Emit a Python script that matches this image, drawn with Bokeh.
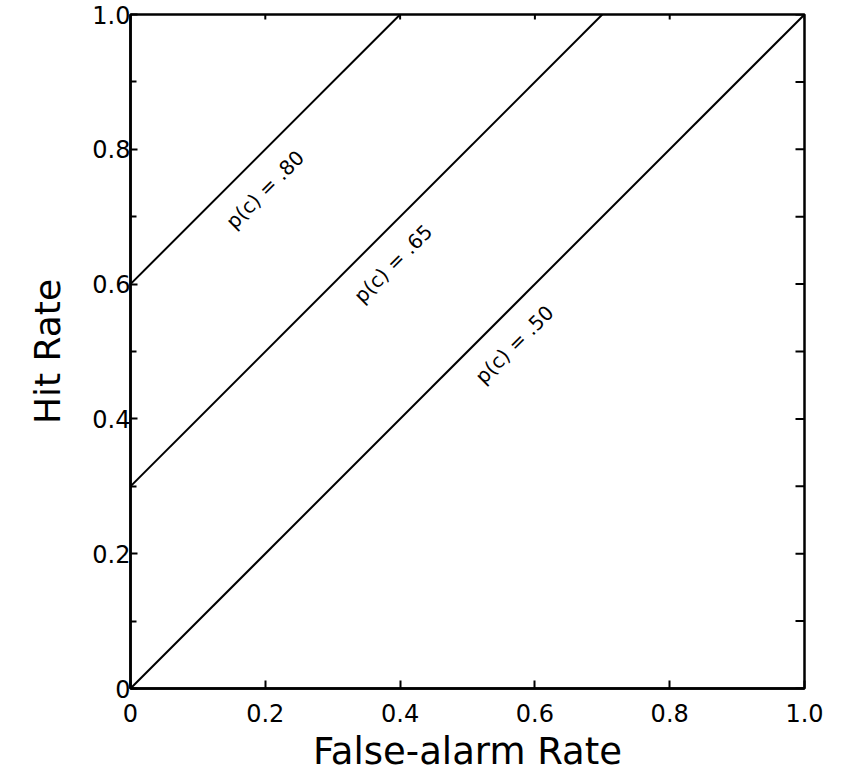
import math
from bokeh.plotting import figure
from bokeh.models import Range1d, LinearAxis, FixedTicker
from bokeh.core.properties import value
from bokeh.embed import file_html
from bokeh.resources import INLINE

# ---- data ----
intercepts = [0.6, 0.3, 0.0]                 # Hit = FA + intercept
pc_labels = ["p(c) = .80", "p(c) = .65", "p(c) = .50"]
label_fa = [0.17, 0.36, 0.54]                # false-alarm position of each label
major_ticks = [0.0, 0.2, 0.4, 0.6, 0.8, 1.0]
minor_ticks = [0.1, 0.3, 0.5, 0.7, 0.9]
tick_labels = {0.0: "0", 0.2: "0.2", 0.4: "0.4", 0.6: "0.6", 0.8: "0.8", 1.0: "1.0"}

FONT = "DejaVu Sans"

p = figure(width=849, height=779, output_backend="svg", toolbar_location=None,
           x_range=Range1d(0, 1), y_range=Range1d(0, 1),
           x_axis_location=None, y_axis_location=None,
           min_border_left=130, min_border_right=45, min_border_top=14, min_border_bottom=91)
p.grid.visible = False
p.outline_line_color = "black"
p.outline_line_width = 2.5
p.background_fill_color = "white"
p.border_fill_color = "white"

def base_axis(ax):
    ax.axis_line_color = "black"
    ax.axis_line_width = 2.5
    ax.major_tick_line_color = "black"
    ax.major_tick_line_width = 2
    ax.minor_tick_line_color = "black"
    ax.minor_tick_line_width = 2
    ax.major_tick_out = 0
    ax.minor_tick_out = 0
    ax.major_label_text_font = FONT
    ax.major_label_text_color = "black"
    ax.axis_label_text_font = FONT
    ax.axis_label_text_font_style = "normal"
    ax.axis_label_text_color = "black"

# bottom
xb = LinearAxis(ticker=FixedTicker(ticks=major_ticks), axis_label="False-alarm Rate")
base_axis(xb)
xb.major_tick_in = 8
xb.minor_tick_in = 0
xb.major_label_overrides = tick_labels
xb.major_label_text_font_size = "24px"
xb.major_label_standoff = 15
xb.axis_label_text_font_size = "37px"
xb.axis_label_standoff = 5
p.add_layout(xb, "below")

# left
yl = LinearAxis(ticker=FixedTicker(ticks=major_ticks, minor_ticks=minor_ticks), axis_label="Hit Rate")
base_axis(yl)
yl.major_tick_in = 7
yl.minor_tick_in = 6
yl.major_label_overrides = tick_labels
yl.major_label_text_font_size = "24px"
yl.major_label_standoff = 0
yl.axis_label_text_font_size = "36px"
yl.axis_label_standoff = 21
p.add_layout(yl, "left")

# top ticks (inward, no labels)
p.ray(x=major_ticks, y=[1.0] * len(major_ticks), length=5, length_units="screen",
      angle=-math.pi / 2, line_color="black", line_width=2)
# right ticks (inward, no labels)
right_ticks = sorted(major_ticks + minor_ticks)
p.ray(x=[1.0] * len(right_ticks), y=right_ticks, length=9, length_units="screen",
      angle=math.pi, line_color="black", line_width=2)

# lines
for c in intercepts:
    xs = [0.0, 1.0 - c]
    ys = [x + c for x in xs]
    p.line(xs, ys, line_color="black", line_width=2)

# labels
p.text(x=label_fa, y=[x + c for x, c in zip(label_fa, intercepts)], text=pc_labels,
       angle=math.pi / 4, x_offset=20, y_offset=20,
       text_align="center", text_baseline="middle",
       text_font=value(FONT), text_font_size="20px", text_color="black")

open("out.html", "w").write(file_html(p, INLINE))
